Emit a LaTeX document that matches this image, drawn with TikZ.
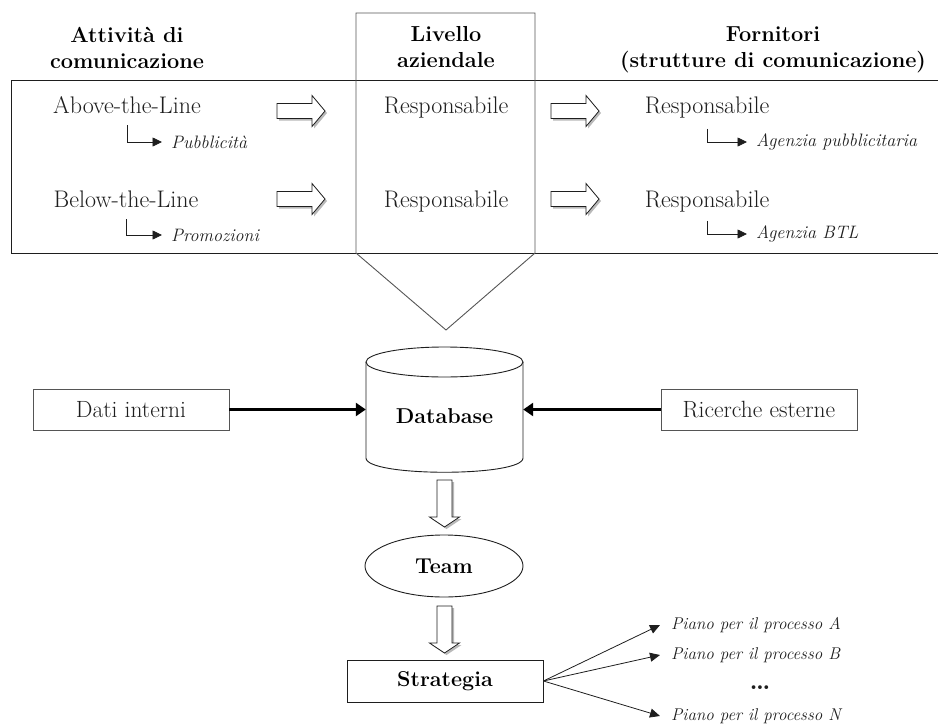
\documentclass[tikz,border=0pt]{standalone}
\usepackage{fontspec}
\usetikzlibrary{arrows.meta,shapes.geometric}
\definecolor{ink}{HTML}{1E1E1E}
\definecolor{lgray}{HTML}{555555}
\begin{document}
\begin{tikzpicture}[x=1pt,y=-1pt,
  hdr/.style={font=\bfseries\fontsize{21.7}{26}\selectfont, align=center, text=black, inner sep=0pt},
  reg/.style={font=\fontsize{24}{28}\selectfont, text=ink, inner sep=2pt, anchor=base},
  sub/.style={font=\itshape\fontsize{18}{21}\selectfont, anchor=west, inner xsep=9pt, inner ysep=1pt, text=ink},
  hook/.style={draw=ink, line width=0.8pt, -{Triangle[length=9.5pt,width=9pt]}},
  bold/.style={font=\bfseries\fontsize{21.5}{25}\selectfont, text=black},
  boxed/.style={draw=lgray, line width=0.9pt, minimum width=196pt, minimum height=41pt, font=\fontsize{23.5}{27}\selectfont, text=ink},
  thickarrow/.style={draw=black, line width=2.6pt, -{Triangle[length=10pt,width=13pt]}},
  fan/.style={draw=ink, line width=0.8pt, -{Triangle[length=10pt,width=9pt]}},
  piano/.style={font=\itshape\fontsize{17}{20}\selectfont, anchor=west, inner xsep=11pt, text=ink},
  frame/.style={draw=ink, line width=0.9pt},
  colframe/.style={draw=lgray, line width=0.9pt},
  blockR/.pic={
    \fill[gray!55, shift={(2,2)}] (0,-7.5) -- (35,-7.5) -- (35,-15.5) -- (48,0) -- (35,15.5) -- (35,7.5) -- (0,7.5) -- cycle;
    \filldraw[fill=white, draw=ink, line width=0.8pt] (0,-7.5) -- (35,-7.5) -- (35,-15.5) -- (48,0) -- (35,15.5) -- (35,7.5) -- (0,7.5) -- cycle;
  },
  blockD/.pic={
    \fill[gray!55, shift={(2,2)}] (-7.5,0) -- (-7.5,37) -- (-15,37) -- (0,47) -- (15,37) -- (7.5,37) -- (7.5,0) -- cycle;
    \filldraw[fill=white, draw=ink, line width=0.8pt] (-7.5,0) -- (-7.5,37) -- (-15,37) -- (0,47) -- (15,37) -- (7.5,37) -- (7.5,0) -- cycle;
  },
]
\useasboundingbox (0,0) rectangle (938,726);

% headers
\node[hdr] (h1) at (127,47.5) {Attività di\\comunicazione};
\node[hdr] (h2) at (446,47.5) {Livello\\aziendale};
\node[hdr] (h3) at (773,50) {Fornitori\\(strutture di comunicazione)};

% frames
\draw[frame] (938,80) -- (11,80) -- (11,253) -- (938,253);
\draw[colframe] (356,253) -- (356,13) -- (535,13) -- (535,253) -- (446,330) -- cycle;

% row 1
\node[reg] (atl) at (127,113) {Above-the-Line};
\node[sub] (pub) at (162,142) {Pubblicità};
\draw[hook] (atl.south) ++(0,10) |- (pub.west);
\node[reg] (r1) at (446,113) {Responsabile};
\node[reg] (r3) at (707,113) {Responsabile};
\node[sub] (agp) at (747,142) {Agenzia pubblicitaria};
\draw[hook] (r3.south) ++(0,9) |- (agp.west);
\pic at (277,111) {blockR};
\pic at (551,111) {blockR};

% row 2
\node[reg] (btl) at (126,207) {Below-the-Line};
\node[sub] (pro) at (162,235) {Promozioni};
\draw[hook] (btl.south) ++(0,10) |- (pro.west);
\node[reg] (r2) at (446,207) {Responsabile};
\node[reg] (r4) at (707,207) {Responsabile};
\node[sub] (agb) at (747,234) {Agenzia BTL};
\draw[hook] (r4.south) ++(0,7) |- (agb.west);
\pic at (277,199) {blockR};
\pic at (551,199) {blockR};

% database
\node[bold, minimum width=157pt, minimum height=95pt, inner sep=0pt] (db) at (444.5,416) {Database};
\draw[frame] (444.5,362) ellipse [x radius=78.5, y radius=15];
\draw[frame] (366,362) -- (366,458) .. controls (366,477) and (523,477) .. (523,458) -- (523,362);

\node[boxed] (dati) at (131,409.5) {Dati interni};
\node[boxed] (ric) at (759,409.5) {Ricerche esterne};
\draw[thickarrow] (dati.east) -- (dati.east -| db.west);
\draw[thickarrow] (ric.west) -- (ric.west -| db.east);

% team and strategy
\pic at (444.5,480) {blockD};
\node[draw=ink, ellipse, line width=0.9pt, minimum width=158pt, minimum height=62pt, inner sep=0pt, bold] (team) at (444,566) {Team};
\pic at (444.5,606) {blockD};
\node[draw=ink, line width=0.9pt, minimum width=196pt, minimum height=42pt, bold] (strat) at (445,681) {Strategia};

% plans
\node[piano] (pa) at (660,625) {Piano per il processo A};
\node[piano] (pb) at (660,655) {Piano per il processo B};
\node[piano] (pn) at (660,716) {Piano per il processo N};
\node[font=\bfseries\fontsize{26}{28}\selectfont, text=ink, inner sep=0pt] (dots) at (760,688) {\dots};
\draw[fan] (strat.east) -- (pa.west);
\draw[fan] (strat.east) -- (pb.west);
\draw[fan] (strat.east) -- (pn.west);
\end{tikzpicture}
\end{document}
